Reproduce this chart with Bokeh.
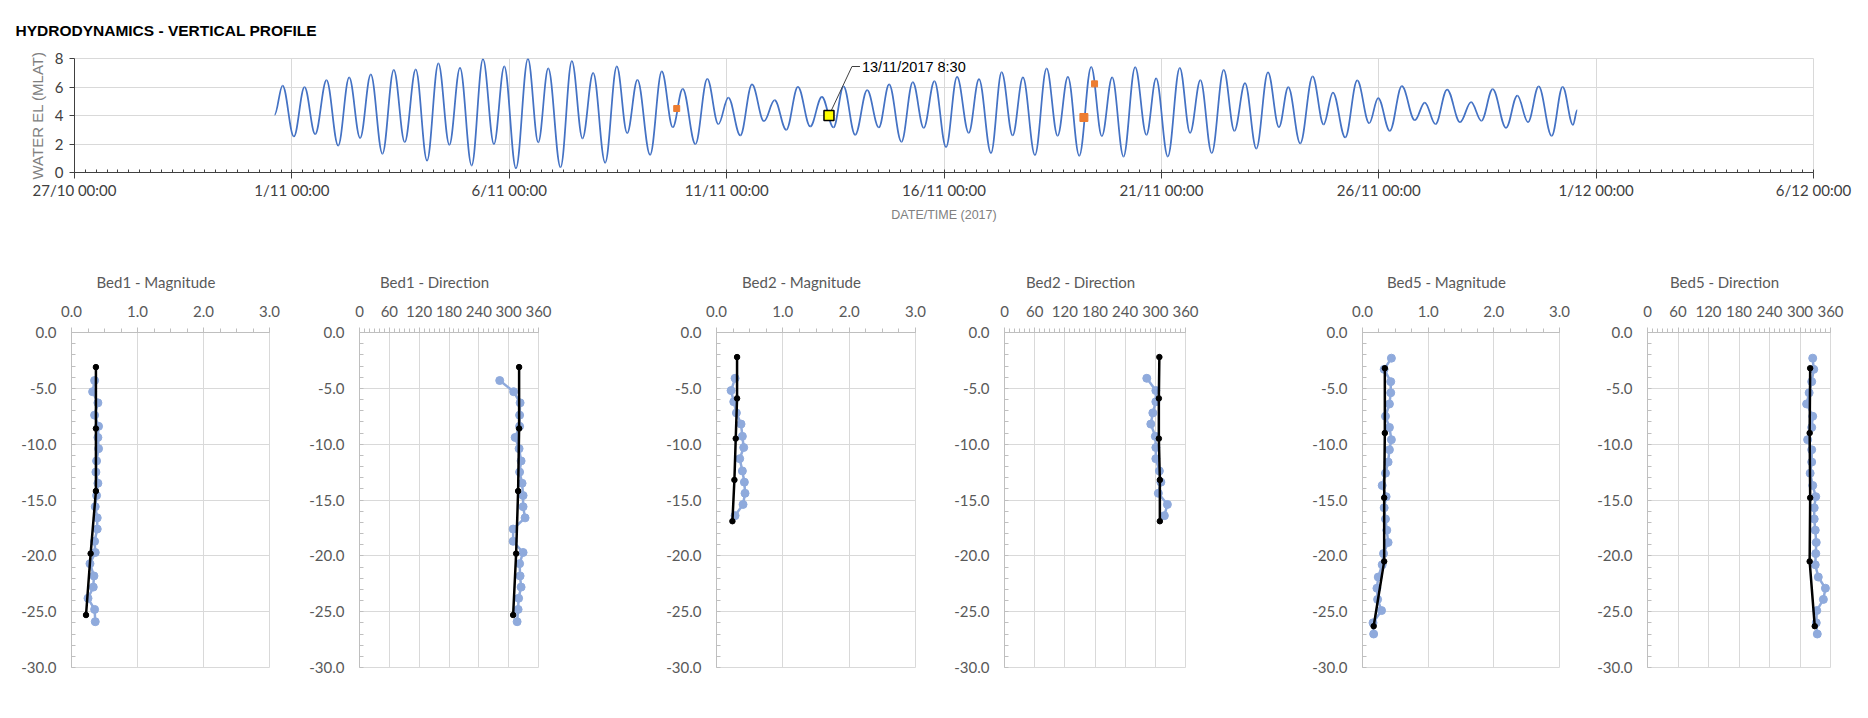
import numpy as np
from bokeh.plotting import figure
from bokeh.models import (Range1d, FixedTicker, Legend, LegendItem, NumeralTickFormatter, Label)
from bokeh.layouts import column, row
from bokeh.embed import file_html
from bokeh.resources import INLINE

# ---------------- DATA ----------------
# Water level: successive highs / lows, time in days after 27/10/2017 00:00
tide_day = [4.602, 4.786, 5.046, 5.291, 5.536, 5.797, 6.065, 6.318, 6.570, 6.815,
            7.083, 7.344, 7.596, 7.849, 8.109, 8.370, 8.622, 8.867, 9.135, 9.396,
            9.648, 9.886, 10.154, 10.430, 10.667, 10.897, 11.180, 11.440, 11.685, 11.930,
            12.206, 12.474, 12.712, 12.949, 13.240, 13.508, 13.761, 13.990, 14.282, 14.555,
            14.810, 15.040, 15.315, 15.583, 15.859, 16.104, 16.372, 16.640, 16.923, 17.191,
            17.459, 17.689, 17.957, 18.233, 18.501, 18.738, 19.021, 19.282, 19.534, 19.780,
            20.047, 20.300, 20.568, 20.805, 21.081, 21.326, 21.579, 21.816, 22.092, 22.360,
            22.613, 22.850, 23.111, 23.386, 23.631, 23.868, 24.129, 24.397, 24.657, 24.879,
            25.148, 25.423, 25.660, 25.898, 26.158, 26.434, 26.679, 26.924, 27.184, 27.452,
            27.705, 27.919, 28.195, 28.479, 28.731, 28.946, 29.229, 29.505, 29.781, 29.987,
            30.255, 30.531, 30.830, 31.059, 31.304, 31.572, 31.871, 32.124, 32.361, 32.621,
            32.927, 33.188, 33.433, 33.678, 33.977, 34.230, 34.467, 34.566]
tide_level = [4.05, 6.10, 2.53, 5.99, 2.69, 6.48, 1.89, 6.67, 2.41, 6.88,
              1.31, 7.20, 2.13, 7.23, 0.84, 7.65, 1.94, 7.35, 0.49, 7.95,
              1.99, 7.44, 0.30, 7.98, 2.11, 7.30, 0.37, 7.81, 2.39, 6.99,
              0.68, 7.44, 2.76, 6.50, 1.24, 7.09, 3.18, 5.87, 1.99, 6.57,
              3.39, 5.26, 2.60, 6.18, 3.60, 5.08, 2.99, 6.01, 3.23, 5.31,
              3.16, 6.04, 2.64, 5.78, 3.16, 6.18, 2.15, 6.34, 3.13, 6.41,
              1.78, 6.71, 2.78, 6.55, 1.36, 7.04, 2.60, 6.67, 1.22, 7.30,
              2.57, 6.71, 1.17, 7.42, 2.55, 6.67, 1.12, 7.39, 2.64, 6.60,
              1.12, 7.35, 2.78, 6.48, 1.36, 7.20, 2.92, 6.27, 1.68, 7.02,
              3.18, 5.99, 2.04, 6.74, 3.37, 5.61, 2.46, 6.46, 3.46, 5.22,
              2.92, 6.06, 3.67, 4.91, 3.39, 5.82, 3.53, 4.94, 3.63, 5.85,
              3.13, 5.40, 3.53, 6.04, 2.57, 6.01, 3.35, 4.37]

orange_day = [13.852, 23.218, 23.463]
orange_level = [4.49, 3.86, 6.22]

callout_day = 17.354          # 13/11/2017 8:30
callout_level = 4.0
callout_text = "13/11/2017 8:30"

date_tick_day = [0, 5, 10, 15, 20, 25, 30, 35, 40]
date_tick_label = ["27/10 00:00", "1/11 00:00", "6/11 00:00", "11/11 00:00", "16/11 00:00",
                   "21/11 00:00", "26/11 00:00", "1/12 00:00", "6/12 00:00"]
level_ticks = [0, 2, 4, 6, 8]

# Vertical profiles (depth in m, magnitude in m/s, direction in deg)
bed1_meas_depth = [-4.3, -5.3, -6.3, -7.4, -8.4, -9.4, -10.4, -11.5, -12.5, -13.5, -14.6,
                   -15.6, -16.6, -17.6, -18.7, -19.7, -20.7, -21.8, -22.8, -23.8, -24.8, -25.9]
bed1_meas_mag = [0.35, 0.32, 0.40, 0.35, 0.41, 0.40, 0.41, 0.38, 0.37, 0.40, 0.38,
                 0.36, 0.39, 0.39, 0.35, 0.36, 0.28, 0.34, 0.33, 0.25, 0.35, 0.36]
bed1_meas_dir = [282, 310, 323, 322, 322, 313, 321, 325, 322, 327, 329,
                 329, 333, 309, 309, 329, 322, 323, 325, 320, 319, 317]
bed1_mod_depth = [-3.1, -8.6, -14.2, -19.8, -25.3]
bed1_mod_mag = [0.37, 0.37, 0.37, 0.29, 0.22]
bed1_mod_dir = [321, 321, 319, 315, 309]

bed2_meas_depth = [-4.1, -5.2, -6.2, -7.2, -8.2, -9.3, -10.3, -11.3, -12.4, -13.4, -14.4, -15.4, -16.4]
bed2_meas_mag = [0.28, 0.22, 0.26, 0.30, 0.37, 0.39, 0.41, 0.35, 0.39, 0.42, 0.43, 0.40, 0.28]
bed2_meas_dir = [283, 301, 301, 295, 291, 300, 301, 301, 308, 311, 306, 324, 318]
bed2_mod_depth = [-2.2, -5.9, -9.5, -13.2, -16.9]
bed2_mod_mag = [0.31, 0.31, 0.29, 0.27, 0.24]
bed2_mod_dir = [308, 307, 307, 309, 309]

bed5_meas_depth = [-2.3, -3.3, -4.4, -5.4, -6.4, -7.5, -8.5, -9.6, -10.5, -11.6, -12.6, -13.7, -14.7,
                   -15.7, -16.7, -17.7, -18.8, -19.8, -20.8, -21.9, -22.9, -23.9, -24.9, -26.0, -27.0]
bed5_meas_mag = [0.44, 0.33, 0.43, 0.43, 0.41, 0.35, 0.41, 0.44, 0.41, 0.39, 0.35, 0.30, 0.36,
                 0.33, 0.35, 0.37, 0.39, 0.32, 0.30, 0.24, 0.22, 0.23, 0.29, 0.16, 0.17]
bed5_meas_dir = [325, 327, 323, 318, 313, 325, 323, 315, 323, 323, 320, 325, 331,
                 328, 328, 330, 332, 331, 330, 336, 350, 346, 333, 332, 334]
bed5_mod_depth = [-3.2, -9.0, -14.8, -20.5, -26.3]
bed5_mod_mag = [0.34, 0.34, 0.33, 0.33, 0.17]
bed5_mod_dir = [320, 319, 320, 319, 329]

mag_ticks = [0, 1, 2, 3]
dir_ticks = [0, 60, 120, 180, 240, 300, 360]
depth_ticks = [0, -5, -10, -15, -20, -25, -30]

# ---------------- STYLE ----------------
BLUE = "#4472C4"
MEAS = "#8FAADC"
GRID = "#D9D9D9"
AXIS = "#BFBFBF"
TXT = "#595959"
FONT = "Lato"

# ---------------- TOP CHART ----------------
TW, TH = 1866, 246
TL, TR, TT, TB = 74, 53, 57, 75
top = figure(frame_width=TW - TL - TR, frame_height=TH - TT - TB,
             x_range=Range1d(0, 40), y_range=Range1d(0, 8),
             output_backend="svg", toolbar_location=None,
             min_border_left=TL, min_border_right=TR, min_border_top=TT, min_border_bottom=TB)
top.outline_line_color = GRID
top.title.text = "HYDRODYNAMICS - VERTICAL PROFILE"
top.title.align = "left"
top.title.offset = -59
top.title.standoff = 39
top.title.text_font = "Liberation Sans"
top.title.text_font_size = "15.5px"
top.title.text_font_style = "bold"
top.title.text_color = "#000000"

minor_days = list(np.arange(0, 40.001, 0.25))
top.xaxis.ticker = FixedTicker(ticks=date_tick_day, minor_ticks=minor_days)
top.xaxis.major_label_overrides = {d: l for d, l in zip(date_tick_day, date_tick_label)}
top.xaxis.axis_line_color = "#404040"
top.xaxis.major_tick_line_color = "#404040"
top.xaxis.minor_tick_line_color = "#404040"
top.xaxis.major_tick_out = 6
top.xaxis.major_tick_in = 0
top.xaxis.minor_tick_in = 3
top.xaxis.minor_tick_out = 0
top.xaxis.major_label_standoff = 2
top.xaxis.major_label_text_font = FONT
top.xaxis.major_label_text_font_size = "15px"
top.xaxis.major_label_text_color = "#404040"
top.xaxis.axis_label = "DATE/TIME (2017)"
top.xaxis.axis_label_text_font = "Liberation Sans"
top.xaxis.axis_label_text_font_size = "12.5px"
top.xaxis.axis_label_text_font_style = "normal"
top.xaxis.axis_label_text_color = "#808080"
top.xaxis.axis_label_standoff = 6

top.yaxis.ticker = FixedTicker(ticks=level_ticks)
top.yaxis.axis_line_color = "#404040"
top.yaxis.major_tick_line_color = "#404040"
top.yaxis.major_tick_out = 5
top.yaxis.major_tick_in = 0
top.yaxis.minor_tick_line_color = None
top.yaxis.major_label_standoff = 6
top.yaxis.major_label_text_font = FONT
top.yaxis.major_label_text_font_size = "15px"
top.yaxis.major_label_text_color = "#404040"
top.yaxis.axis_label = "WATER EL (MLAT)"
top.yaxis.axis_label_text_font = "Liberation Sans"
top.yaxis.axis_label_text_font_size = "15px"
top.yaxis.axis_label_text_font_style = "normal"
top.yaxis.axis_label_text_color = "#808080"
top.yaxis.axis_label_standoff = 6

top.xgrid.ticker = FixedTicker(ticks=date_tick_day)
top.xgrid.grid_line_color = GRID
top.ygrid.grid_line_color = GRID

# smooth water-level curve: cubic Bezier between successive highs and lows
t = np.array(tide_day)
v = np.array(tide_level)
k = 0.364
dt = t[1:] - t[:-1]
top.bezier(x0=t[:-1], y0=v[:-1], x1=t[1:], y1=v[1:],
           cx0=t[:-1] + k * dt, cy0=v[:-1], cx1=t[1:] - k * dt, cy1=v[1:],
           line_color=BLUE, line_width=1.75)

top.scatter(x=[orange_day[0], orange_day[2]], y=[orange_level[0], orange_level[2]],
            marker="square", size=6, color="#ED7D31")
top.scatter(x=[orange_day[1]], y=[orange_level[1]], marker="square", size=8, color="#ED7D31")

# callout
px_day = (TW - TL - TR) / 40.0
px_lev = (TH - TT - TB) / 8.0
lead_x = [callout_day, callout_day + 23 / px_day, callout_day + 31 / px_day]
lead_y = [callout_level, callout_level + 49 / px_lev, callout_level + 49 / px_lev]
top.line(lead_x, lead_y, line_color="#404040", line_width=1)
top.scatter(x=[callout_day], y=[callout_level], marker="square", size=10,
            fill_color="#FFFF00", line_color="#000000", line_width=1.5)
top.add_layout(Label(x=callout_day, y=callout_level, x_offset=33, y_offset=49,
                     text=callout_text, text_font="Liberation Sans", text_font_size="14.5px",
                     text_color="#000000", text_baseline="middle", text_align="left"))


# ---------------- PROFILE PANELS ----------------
FH = 335          # frame height of each profile


def panel(title, title_w, left, fw, right, xmax, ticks, minor, fmt, mx, my, ox, oy):
    p = figure(frame_width=fw, frame_height=FH,
               x_range=Range1d(0, xmax), y_range=Range1d(-30, 0),
               x_axis_location="above", output_backend="svg", toolbar_location=None,
               min_border_left=left, min_border_right=right, min_border_top=85, min_border_bottom=34)
    p.outline_line_color = GRID
    p.title.text = title
    p.title.align = "left"
    p.title.offset = fw / 2 - 15 - title_w / 2
    p.title.standoff = 24
    p.title.text_font = FONT
    p.title.text_font_size = "15px"
    p.title.text_font_style = "normal"
    p.title.text_color = TXT

    p.xaxis.ticker = FixedTicker(ticks=ticks, minor_ticks=minor)
    p.xaxis.formatter = NumeralTickFormatter(format=fmt)
    p.xaxis.axis_line_color = AXIS
    p.xaxis.major_tick_line_color = AXIS
    p.xaxis.minor_tick_line_color = AXIS
    p.xaxis.major_tick_out = 5
    p.xaxis.major_tick_in = 0
    p.xaxis.minor_tick_out = 4
    p.xaxis.minor_tick_in = 0
    p.xaxis.major_label_standoff = 11
    p.xaxis.major_label_text_font = FONT
    p.xaxis.major_label_text_font_size = "15px"
    p.xaxis.major_label_text_color = TXT

    p.yaxis.ticker = FixedTicker(ticks=depth_ticks, minor_ticks=list(range(-30, 1)))
    p.yaxis.formatter = NumeralTickFormatter(format="0.0")
    p.yaxis.axis_line_color = AXIS
    p.yaxis.major_tick_line_color = None
    p.yaxis.major_tick_out = 0
    p.yaxis.major_tick_in = 0
    p.yaxis.minor_tick_line_color = AXIS
    p.yaxis.minor_tick_in = 4
    p.yaxis.minor_tick_out = 0
    p.yaxis.major_label_standoff = 15
    p.yaxis.major_label_text_font = FONT
    p.yaxis.major_label_text_font_size = "15px"
    p.yaxis.major_label_text_color = TXT

    p.xgrid.ticker = FixedTicker(ticks=ticks)
    p.ygrid.ticker = FixedTicker(ticks=depth_ticks)
    p.xgrid.grid_line_color = GRID
    p.ygrid.grid_line_color = GRID

    ml = p.line(mx, my, line_color=MEAS, line_width=2.5)
    ms = p.scatter(mx, my, marker="circle", size=8, color=MEAS)
    ol = p.line(ox, oy, line_color="#000000", line_width=2.5)
    os_ = p.scatter(ox, oy, marker="circle", size=5.5, color="#000000")

    leg = Legend(items=[LegendItem(label="Measured", renderers=[ml, ms]),
                        LegendItem(label="Modelled", renderers=[ol, os_])],
                 orientation="horizontal", location="center",
                 glyph_width=33, glyph_height=16, label_height=16, label_standoff=4, spacing=19,
                 padding=0, margin=9, border_line_color=None, background_fill_alpha=0,
                 label_text_font=FONT, label_text_font_size="15px", label_text_color=TXT)
    p.add_layout(leg, "below")
    return p


mag_minor = list(np.arange(0, 3.001, 0.25))
dir_minor = list(range(0, 361, 10))
MAG_W, DIR_W = 118, 108   # approximate title text widths (px)

p1 = panel("Bed1 - Magnitude", MAG_W, 71, 198, 31, 3, mag_ticks, mag_minor, "0.0",
           bed1_meas_mag, bed1_meas_depth, bed1_mod_mag, bed1_mod_depth)
p2 = panel("Bed1 - Direction", DIR_W, 59, 179, 82, 360, dir_ticks, dir_minor, "0",
           bed1_meas_dir, bed1_meas_depth, bed1_mod_dir, bed1_mod_depth)
p3 = panel("Bed2 - Magnitude", MAG_W, 96, 199, 35, 3, mag_ticks, mag_minor, "0.0",
           bed2_meas_mag, bed2_meas_depth, bed2_mod_mag, bed2_mod_depth)
p4 = panel("Bed2 - Direction", DIR_W, 54, 181, 105, 360, dir_ticks, dir_minor, "0",
           bed2_meas_dir, bed2_meas_depth, bed2_mod_dir, bed2_mod_depth)
p5 = panel("Bed5 - Magnitude", MAG_W, 72, 197, 31, 3, mag_ticks, mag_minor, "0.0",
           bed5_meas_mag, bed5_meas_depth, bed5_mod_mag, bed5_mod_depth)
p6 = panel("Bed5 - Direction", DIR_W, 57, 183, 36, 360, dir_ticks, dir_minor, "0",
           bed5_meas_dir, bed5_meas_depth, bed5_mod_dir, bed5_mod_depth)

layout = column(top, row(p1, p2, p3, p4, p5, p6))
open("out.html", "w").write(file_html(layout, INLINE))
